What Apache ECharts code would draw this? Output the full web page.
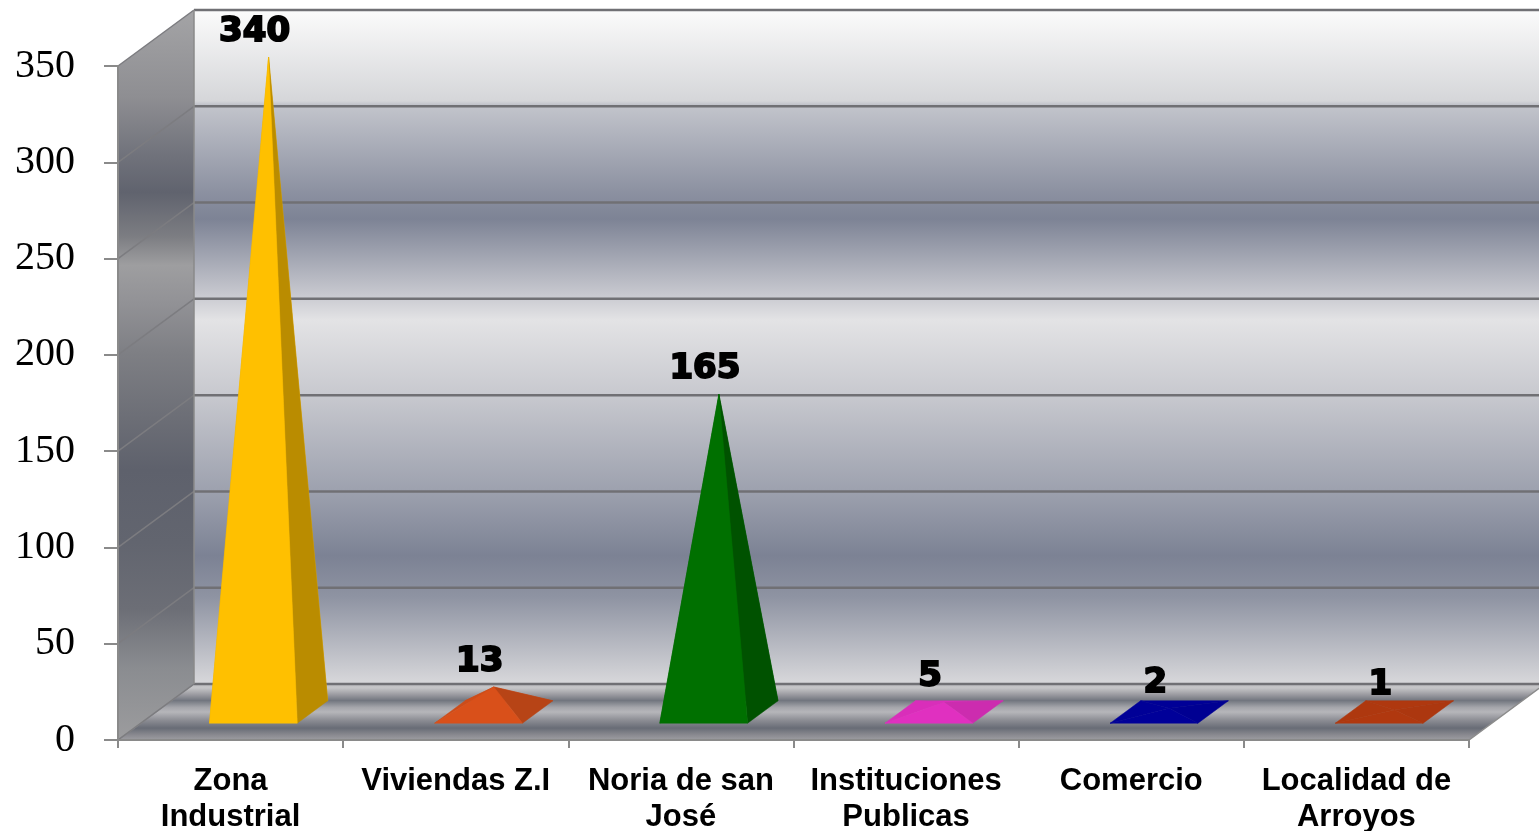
<!DOCTYPE html>
<html>
<head>
<meta charset="utf-8">
<script src="https://cdn.jsdelivr.net/npm/echarts@6/dist/echarts.min.js"></script>
<style>
  html, body { margin: 0; padding: 0; background: #fff; }
  #chart { width: 1539px; height: 831px; }
</style>
</head>
<body>
<div id="chart"></div>
<script>
const categories = ['Zona\nIndustrial', 'Viviendas Z.I', 'Noria de san\nJosé', 'Instituciones\nPublicas', 'Comercio', 'Localidad de\nArroyos'];
const values = [340, 13, 165, 5, 2, 1];
const colors = ['#ffc000', '#d9501a', '#007000', '#e030c0', '#000099', '#b0380f'];
const yTicks = [0, 50, 100, 150, 200, 250, 300, 350];

// projected depth of the 3d box (px)
const DEPTH = [76, -56];

const chart = echarts.init(document.getElementById('chart'));

function shade(hex, k) {
  const n = parseInt(hex.slice(1), 16);
  const r = Math.round(((n >> 16) & 255) * k);
  const g = Math.round(((n >> 8) & 255) * k);
  const b = Math.round((n & 255) * k);
  return 'rgb(' + r + ',' + g + ',' + b + ')';
}

function grad(stops) {
  return new echarts.graphic.LinearGradient(0, 0, 0, 1,
    stops.map(s => ({ offset: s[0], color: s[1] })));
}

const backStops = [
  [0, '#fbfbfb'], [0.135, '#d5d6d9'], [0.14, '#c3c5cc'], [0.27, '#8c91a1'],
  [0.31, '#7d8395'], [0.42, '#c6c7ce'], [0.46, '#e3e3e5'], [0.57, '#c8c9cf'],
  [0.71, '#9ea2af'], [0.81, '#7c8294'], [0.87, '#8e93a2'], [1, '#d8d8db']
];
const sideStops = [
  [0, '#a4a4a6'], [0.12, '#8e8e92'], [0.2, '#70727b'], [0.25, '#60636e'],
  [0.31, '#7c7d82'], [0.35, '#9e9ea0'], [0.4, '#929296'], [0.47, '#7e7f84'],
  [0.56, '#6c6e76'], [0.63, '#5e616c'], [0.73, '#62656f'], [0.82, '#6c6e76'],
  [0.9, '#8a8c90'], [1, '#9c9c9e']
];
const floorStops = [
  [0, '#bdbdc0'], [0.08, '#c6c6c8'], [0.2, '#9a9aa0'], [0.3, '#72767f'],
  [0.42, '#a5a6ab'], [0.5, '#b6b6ba'], [0.65, '#8a8b92'], [0.78, '#686c76'],
  [0.9, '#8a8a90'], [1, '#a0a0a4']
];

function renderWalls(params, api) {
  const cs = params.coordSys;
  const x0 = cs.x, x1 = cs.x + cs.width, yt = cs.y, yb = cs.y + cs.height;
  const dx = DEPTH[0], dy = DEPTH[1];
  const children = [];
  children.push({
    type: 'rect',
    shape: { x: x0 + dx, y: yt + dy, width: cs.width, height: cs.height },
    style: { fill: grad(backStops) }
  });
  children.push({
    type: 'polygon',
    shape: { points: [[x0, yb], [x0, yt], [x0 + dx, yt + dy], [x0 + dx, yb + dy]] },
    style: { fill: grad(sideStops) }
  });
  children.push({
    type: 'polygon',
    shape: { points: [[x0, yb], [x1, yb], [x1 + dx, yb + dy], [x0 + dx, yb + dy]] },
    style: { fill: grad(floorStops), stroke: '#8c8c8c', lineWidth: 1.5 }
  });
  yTicks.forEach(v => {
    const y = api.coord([0, v])[1];
    children.push({
      type: 'line',
      shape: { x1: x0, y1: y, x2: x0 + dx, y2: y + dy },
      style: { stroke: '#7c7c80', lineWidth: 1.5 }
    });
    children.push({
      type: 'line',
      shape: { x1: x0 + dx, y1: y + dy, x2: x1 + dx, y2: y + dy },
      style: { stroke: '#707074', lineWidth: 2.5 }
    });
  });
  children.push({
    type: 'line',
    shape: { x1: x0 + dx, y1: yt + dy, x2: x0 + dx, y2: yb + dy },
    style: { stroke: '#8a8a8a', lineWidth: 1.5 }
  });
  return { type: 'group', children: children };
}

function renderPyramid(params, api) {
  const i = api.value(0), v = api.value(1);
  const base = api.coord([i, 0]);
  const top = api.coord([i, v]);
  const hw = api.size([1, 0])[0] * 0.195;
  const mx = DEPTH[0] / 2, my = DEPTH[1] / 2;
  const hx = DEPTH[0] * 0.2, hy = DEPTH[1] * 0.2;
  const cx = base[0] + mx, cy = base[1] + my;
  const A = [top[0] + mx, top[1] + my];
  const FL = [cx - hw - hx, cy - hy], FR = [cx + hw - hx, cy - hy];
  const BR = [cx + hw + hx, cy + hy], BL = [cx - hw + hx, cy + hy];
  const c = colors[i];
  // flat pyramids are lit almost evenly, steep ones get darker sides
  const h = base[1] - top[1];
  const steep = h / (h + 20);
  const k = k0 => 1 - (1 - k0) * steep;
  const face = (pts, col) => ({
    type: 'polygon',
    shape: { points: pts },
    style: { fill: col, stroke: col, lineWidth: 0.5 }
  });
  return {
    type: 'group',
    children: [
      face([BL, BR, A], shade(c, k(0.93))),
      face([FL, BL, A], shade(c, k(0.9))),
      face([FR, BR, A], shade(c, k(0.72))),
      face([FL, FR, A], c),
      {
        type: 'text',
        x: A[0] - 14,
        y: A[1] - 25,
        style: {
          text: String(v),
          fontFamily: 'DejaVu Sans',
          fontWeight: 'bold',
          fontSize: 34,
          fill: '#000',
          stroke: '#000',
          lineWidth: 2,
          align: 'center',
          verticalAlign: 'middle'
        }
      }
    ]
  };
}

chart.setOption({
  animation: false,
  backgroundColor: '#fff',
  grid: { left: 118, right: 70, top: 66, bottom: 91, containLabel: false, outerBoundsMode: 'none' },
  xAxis: {
    type: 'category',
    data: categories,
    z: 5,
    axisLine: { show: true, lineStyle: { color: '#8a8a8a', width: 2 } },
    axisTick: { show: true, length: 8, lineStyle: { color: '#8a8a8a', width: 2 } },
    axisLabel: {
      interval: 0,
      margin: 23,
      color: '#000',
      fontFamily: 'Liberation Sans',
      fontWeight: 'bold',
      fontSize: 31,
      lineHeight: 36
    },
    splitLine: { show: false }
  },
  yAxis: {
    type: 'value',
    min: 0,
    max: 350,
    interval: 50,
    z: 5,
    axisLine: { show: true, lineStyle: { color: '#8a8a8a', width: 2 } },
    axisTick: { show: true, length: 14, lineStyle: { color: '#8a8a8a', width: 2 } },
    axisLabel: {
      margin: 43,
      color: '#000',
      fontFamily: 'Liberation Serif',
      fontSize: 40
    },
    splitLine: { show: false }
  },
  series: [
    {
      type: 'custom',
      z: 1,
      silent: true,
      renderItem: renderWalls,
      encode: { x: 0, y: 1 },
      data: [[0, 0]]
    },
    {
      type: 'custom',
      z: 3,
      renderItem: renderPyramid,
      encode: { x: 0, y: 1 },
      data: values.map((v, i) => [i, v])
    }
  ]
});
</script>
</body>
</html>
